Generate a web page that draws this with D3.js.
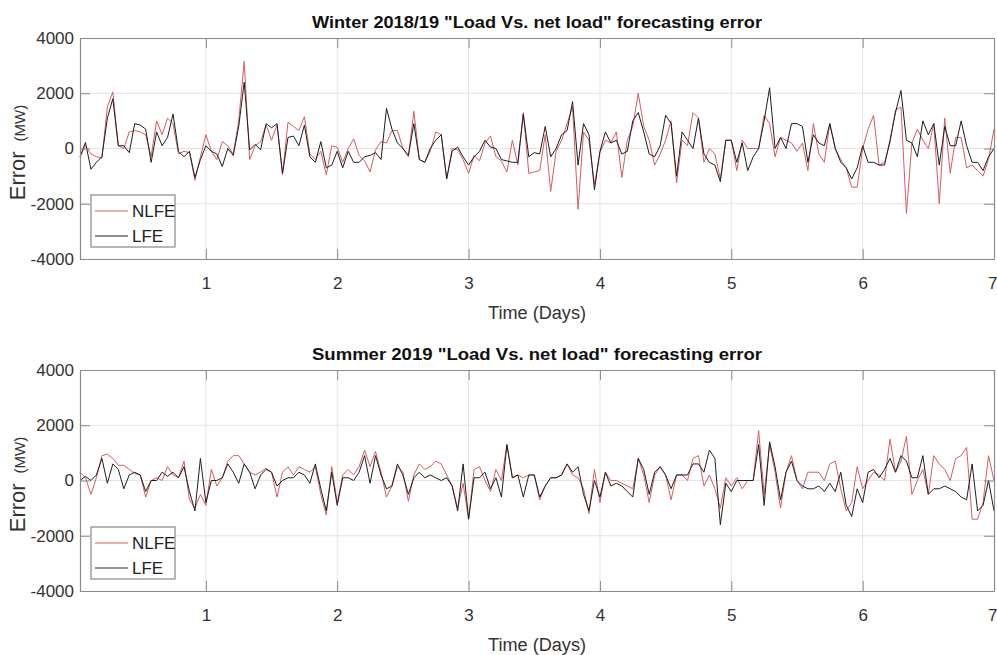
<!DOCTYPE html>
<html>
<head>
<meta charset="utf-8">
<script src="https://cdn.jsdelivr.net/npm/d3@7"></script>
<style>
  body { margin: 0; background: #fff; }
  svg { display: block; font-family: "Liberation Sans", Arial, sans-serif; }
</style>
</head>
<body>
<div id="chart"></div>
<script>
// hourly errors (MW) over one week
var hours = d3.range(1, 169);

var winterLFE = [
  -300, 220, -750, -500, -300, 1100, 1800, 100, 100, -150, 900, 850,
  700, -500, 600, 100, 400, 1250, -100, -300, -100, -1050, -400, 100,
  -100, -200, -650, 0, -250, 800, 2400, -50, 150, -50, 900, 750,
  900, -900, 400, 450, 100, 850, -300, -500, 250, -700, -600, -100,
  -700, -100, -500, -500, -300, -250, -150, -400, 1450, 700, 200, 0,
  -250, 900, -400, -500, 0, 300, 500, -1100, -100, 50, -300, -600,
  -300, -100, 300, 50, 0, -400, -450, -500, -500, 1250, -300, -150,
  -200, 800, -300, 0, 500, 650, 1700, -600, 900, 500, -1500, -100,
  600, 200, 300, -200, -100, 1000, 1300, 600, -200, -300, 100, 1200,
  900, -1000, 600, 300, 0, 1100, -200, -500, -600, -1200, 300, 300,
  -500, 200, -800, -300, 0, 1000, 2200, 0, 400, 0, 900, 900,
  800, -500, 500, 200, 100, 900, 0, -500, -700, -1100, -700, 100,
  -500, -500, -600, -600, 300, 1300, 2100, 300, 200, -300, 1000, 500,
  900, -600, 800, 100, 100, 1000, 100, -500, -500, -800, -300, 0
];
var winterNLFE = [
  -300, 100, -200, -300, -350, 1500, 2050, 100, 0, 600, 650, 600,
  500, -300, 1000, 500, 1100, 900, -200, -100, -150, -1150, -300, 500,
  -100, -400, 250, 100, -200, 1000, 3150, -400, 100, 250, 850, 300,
  850, -950, 950, 800, 650, 1150, -200, -400, -100, -950, 100, 50,
  -500, 0, 350, -250, -450, -850, -50, 250, 200, 650, 650, 0,
  -300, 1350, -400, -500, -100, 600, 500, -1100, 0, -50, -400, -900,
  -250, -450, 200, 450, -300, -450, -850, 300, -600, 1300, -900, -850,
  -800, 500, -1550, -100, 300, 900, 1500, -2200, 600, 300, -1300, -150,
  300, 200, 600, -1050, 300, 800, 2000, 800, 300, -600, -200, 300,
  1000, -1250, 300, 100, 1300, 1100, -500, 0, -200, -1100, 300, 300,
  -800, 300, 0, 0, 0, 1200, 900, -300, 400, 300, 200, -100,
  200, -800, 900, -200, -500, 900, 0, -400, -700, -1400, -1400, 0,
  700, 1200, -600, -500, 200, 1400, 1500, -2350, 200, 700, 300, 0,
  900, -2000, 1100, -900, 400, 400, -700, -600, -800, -1000, -400, 700
];
var summerLFE = [
  0, 150, 0, 200, 800, -100, 600, 400, -300, 200, 300, 200,
  -400, 0, 0, 300, 150, 300, 100, 500, -400, -1100, 800, -800,
  0, 0, 100, 600, 300, -100, 600, 300, -300, 200, 400, 300,
  -200, 0, 100, 100, 300, 200, -100, 600, -300, -1100, 300, -900,
  100, 100, 0, 300, 900, -100, 900, 200, -300, -200, 600, 200,
  -500, 100, 300, 100, 200, 100, 0, 100, -200, -1100, 600, -1400,
  100, 100, 300, -300, 100, -600, 1300, 100, 200, -600, 200, 200,
  -600, -200, 100, 100, 200, 600, 300, 500, -500, -1100, 0, -600,
  300, -200, -100, -200, -400, -600, 800, 400, -500, 300, 500, 200,
  -300, 200, 200, 200, 600, 600, 300, 1100, 800, -1600, -100, -400,
  0, 0, 0, 0, 1300, -900, 1400, 500, -700, 300, 700, 0,
  -200, -300, -300, -200, -400, -100, -400, 300, -900, -1300, -300, -800,
  300, 400, 100, 400, 800, 300, 900, 700, 100, 100, 900, -500,
  -300, -300, -200, -300, -400, -600, -700, 600, -1100, -900, 0, -1100
];
var summerNLFE = [
  300, 100, -500, 100, 900, 950, 800, 550, 550, 400, 250, 200,
  -600, 0, 100, 0, 500, 200, 100, 700, -700, -1000, -500, -900,
  400, -200, 100, 700, 900, 900, 600, 300, 200, 300, 450, 300,
  -600, 300, 500, 200, 500, 400, 300, 500, -500, -1250, 500, -800,
  200, 400, 200, 500, 1100, 500, 1050, 300, -600, -200, 500, 300,
  -750, 200, 600, 400, 500, 700, 600, 200, -200, -1000, -100, -1400,
  400, 500, 0, -400, 400, 0, 1300, 100, 200, 100, 200, 200,
  -700, -200, 100, 100, 200, 600, 200, 100, -300, -1200, 400, -800,
  300, 0, 0, -100, -200, -300, 800, 200, -800, 200, 500, 200,
  -700, 200, 200, 0, 800, 900, -200, 200, -300, -1000, 100, -200,
  100, -300, 0, 0, 1800, -500, 1300, 300, -1000, 300, 900, 0,
  -300, 300, 300, 300, 0, 600, 700, -300, -1100, -800, 500, -300,
  0, 300, 200, 0, 1500, 300, 700, 1600, -500, 0, 400, -500,
  900, 600, 400, 0, 800, 900, 1200, -1400, -1400, -800, 900, 0
];

var dayTicks = [1, 2, 3, 4, 5, 6, 7];
var errTicks = [-4000, -2000, 0, 2000, 4000];
var seriesNames = ["NLFE", "LFE"];
var seriesColors = ["#d65c5f", "#1e1e1e"];

var W = 997, H = 655;
var plotLeft = 80, plotRight = 994, plotH = 221;
var tickLen = 10;

var svg = d3.select("#chart").append("svg")
  .attr("width", W)
  .attr("height", H);

var x = d3.scaleLinear()
  .domain([1 / 24, 7])
  .range([plotLeft, plotRight]);

function drawPanel(top, title, nlfe, lfe) {
  var y = d3.scaleLinear()
    .domain([-4000, 4000])
    .range([top + plotH, top]);

  var g = svg.append("g");

  // grid
  g.append("g")
    .selectAll("line")
    .data(dayTicks.slice(0, -1))
    .enter().append("line")
      .attr("x1", function(d) { return x(d); })
      .attr("x2", function(d) { return x(d); })
      .attr("y1", top).attr("y2", top + plotH)
      .attr("stroke", "#e4e4e4");
  g.append("g")
    .selectAll("line")
    .data(errTicks.slice(1, -1))
    .enter().append("line")
      .attr("x1", plotLeft).attr("x2", plotRight)
      .attr("y1", function(d) { return y(d); })
      .attr("y2", function(d) { return y(d); })
      .attr("stroke", "#e4e4e4");

  // lines (NLFE first, LFE on top)
  var line = d3.line()
    .x(function(d, i) { return x(hours[i] / 24); })
    .y(function(d) { return y(d); });

  [nlfe, lfe].forEach(function(vals, k) {
    g.append("path")
      .datum(vals)
      .attr("fill", "none")
      .attr("stroke", seriesColors[k])
      .attr("stroke-width", 1)
      .attr("stroke-linejoin", "round")
      .attr("d", line);
  });

  // axes (MATLAB box with inward ticks)
  var axisColor = "#8a8a8a";
  var bottomAx = g.append("g")
    .attr("transform", "translate(0," + (top + plotH) + ")")
    .call(d3.axisBottom(x).tickValues(dayTicks).tickSizeInner(-tickLen).tickSizeOuter(0)
      .tickFormat(d3.format("d")));
  var topAx = g.append("g")
    .attr("transform", "translate(0," + top + ")")
    .call(d3.axisTop(x).tickValues(dayTicks).tickSizeInner(-tickLen).tickSizeOuter(0).tickFormat(""));
  var leftAx = g.append("g")
    .attr("transform", "translate(" + plotLeft + ",0)")
    .call(d3.axisLeft(y).tickValues(errTicks).tickSizeInner(-tickLen).tickSizeOuter(0)
      .tickFormat(function(d) { return String(d); }));
  var rightAx = g.append("g")
    .attr("transform", "translate(" + plotRight + ",0)")
    .call(d3.axisRight(y).tickValues(errTicks).tickSizeInner(-tickLen).tickSizeOuter(0).tickFormat(""));

  [bottomAx, topAx, leftAx, rightAx].forEach(function(a) {
    a.select(".domain").attr("stroke", axisColor).attr("stroke-width", 1.2);
    a.selectAll(".tick line").attr("stroke", axisColor);
    a.selectAll(".tick text")
      .attr("fill", "#333")
      .style("font-size", "17px");
  });
  bottomAx.selectAll(".tick text").attr("y", 24).attr("dy", "0.35em");
  // last label sits at the right edge of the figure
  bottomAx.selectAll(".tick text").filter(function(d) { return d === 7; })
    .attr("text-anchor", "end").attr("x", 3);
  leftAx.selectAll(".tick text").attr("x", -6);

  // title
  g.append("text")
    .attr("x", (plotLeft + plotRight) / 2)
    .attr("y", top - 10)
    .attr("text-anchor", "middle")
    .attr("font-weight", "bold")
    .attr("font-size", 17)
    .attr("fill", "#111")
    .attr("textLength", 450)
    .attr("lengthAdjust", "spacingAndGlyphs")
    .text(title);

  // x label
  g.append("text")
    .attr("x", (plotLeft + plotRight) / 2)
    .attr("y", top + plotH + 60)
    .attr("text-anchor", "middle")
    .attr("font-size", 18)
    .attr("fill", "#333")
    .attr("textLength", 98)
    .attr("lengthAdjust", "spacingAndGlyphs")
    .text("Time (Days)");

  // y label
  var yl = g.append("text")
    .attr("transform", "translate(25," + (y(0) + 4) + ") rotate(-90)")
    .attr("text-anchor", "middle")
    .attr("fill", "#333");
  yl.append("tspan").attr("font-size", 22).text("Error");
  yl.append("tspan").attr("font-size", 15).attr("dx", 10).text("(MW)");

  // legend
  var lg = g.append("g")
    .attr("transform", "translate(91," + (top + 157) + ")");
  lg.append("rect")
    .attr("width", 84).attr("height", 52)
    .attr("fill", "#fff")
    .attr("stroke", "#888")
    .attr("stroke-width", 1.2);
  var items = lg.selectAll(".legend")
    .data(seriesNames)
    .enter().append("g")
      .attr("class", "legend")
      .attr("transform", function(d, i) { return "translate(0," + (16 + i * 25) + ")"; });
  items.append("line")
    .attr("x1", 4).attr("x2", 37)
    .attr("stroke", function(d, i) { return seriesColors[i]; })
    .attr("stroke-width", 1.2);
  items.append("text")
    .attr("x", 41)
    .attr("dy", "0.35em")
    .attr("font-size", 17)
    .attr("fill", "#222")
    .text(function(d) { return d; });
}

drawPanel(38, 'Winter 2018/19 "Load Vs. net load" forecasting error', winterNLFE, winterLFE);
drawPanel(370, 'Summer 2019 "Load Vs. net load" forecasting error', summerNLFE, summerLFE);
</script>
</body>
</html>
